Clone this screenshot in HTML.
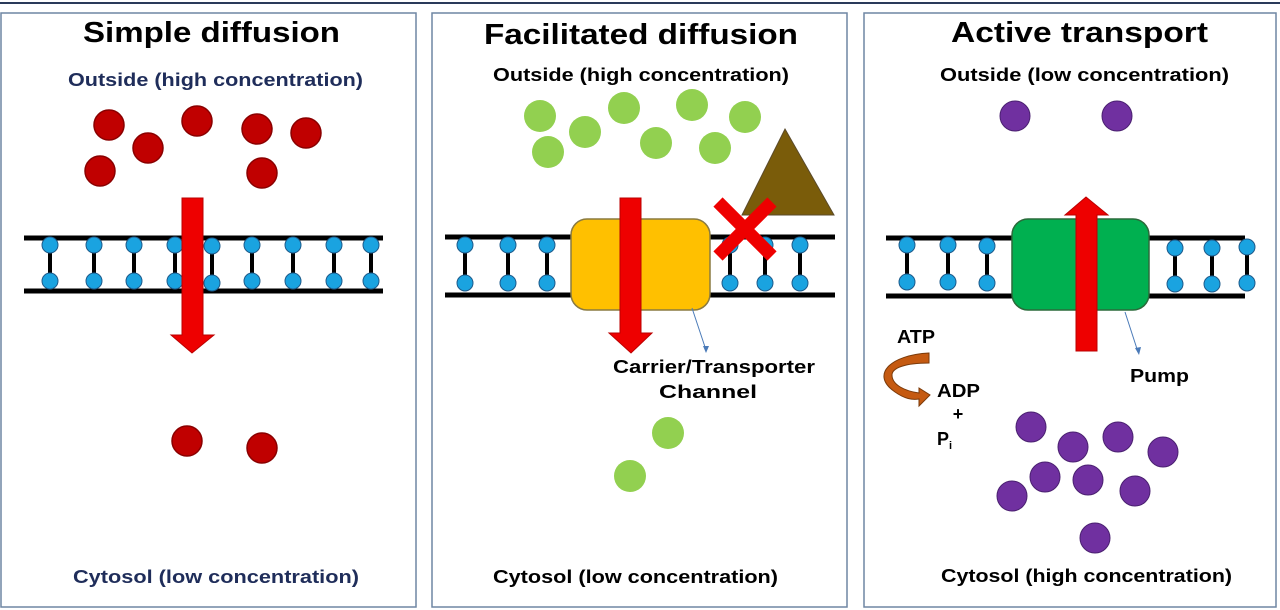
<!DOCTYPE html>
<html><head><style>
body{margin:0;background:#fff;}
svg{display:block;}
text{font-family:"Liberation Sans",sans-serif;font-weight:bold;}
</style></head><body>
<svg width="1280" height="610" viewBox="0 0 1280 610" xmlns="http://www.w3.org/2000/svg">
<rect width="1280" height="610" fill="#fff"/>
<line x1="0" y1="3" x2="1280" y2="3" stroke="#2a3a5a" stroke-width="2"/>
<rect x="1" y="13" width="415" height="594" fill="none" stroke="#6f86a3" stroke-width="1.5"/>
<rect x="432" y="13" width="415" height="594" fill="none" stroke="#6f86a3" stroke-width="1.5"/>
<rect x="864" y="13" width="412" height="594" fill="none" stroke="#6f86a3" stroke-width="1.5"/>

<!-- Panel 1 -->
<text x="83" y="42" font-size="29" textLength="257" lengthAdjust="spacingAndGlyphs" fill="#000">Simple diffusion</text>
<text x="68" y="86" font-size="18" textLength="295" lengthAdjust="spacingAndGlyphs" fill="#1f2d5a">Outside (high concentration)</text>
<text x="73" y="583" font-size="18" textLength="286" lengthAdjust="spacingAndGlyphs" fill="#1f2d5a">Cytosol (low concentration)</text>
<g fill="#c00000" stroke="#8a0000" stroke-width="1.5">
<circle cx="109" cy="125" r="15"/><circle cx="148" cy="148" r="15"/><circle cx="197" cy="121" r="15"/>
<circle cx="257" cy="129" r="15"/><circle cx="306" cy="133" r="15"/><circle cx="100" cy="171" r="15"/>
<circle cx="262" cy="173" r="15"/><circle cx="187" cy="441" r="15"/><circle cx="262" cy="448" r="15"/>
</g>
<g stroke="#000">
<line x1="24" y1="238" x2="383" y2="238" stroke-width="5"/>
<line x1="24" y1="291" x2="383" y2="291" stroke-width="5"/>
</g>
<g stroke="#000" stroke-width="4">
<line x1="50" y1="245" x2="50" y2="281"/><line x1="94" y1="245" x2="94" y2="281"/><line x1="134" y1="245" x2="134" y2="281"/><line x1="175" y1="245" x2="175" y2="281"/><line x1="212" y1="245" x2="212" y2="281"/><line x1="252" y1="245" x2="252" y2="281"/><line x1="293" y1="245" x2="293" y2="281"/><line x1="334" y1="245" x2="334" y2="281"/><line x1="371" y1="245" x2="371" y2="281"/>
</g>
<g fill="#1aa3e0" stroke="#1e5a8a" stroke-width="1">
<circle cx="50" cy="245" r="8"/><circle cx="94" cy="245" r="8"/><circle cx="134" cy="245" r="8"/><circle cx="175" cy="245" r="8"/><circle cx="212" cy="246" r="8"/><circle cx="252" cy="245" r="8"/><circle cx="293" cy="245" r="8"/><circle cx="334" cy="245" r="8"/><circle cx="371" cy="245" r="8"/>
<circle cx="50" cy="281" r="8"/><circle cx="94" cy="281" r="8"/><circle cx="134" cy="281" r="8"/><circle cx="175" cy="281" r="8"/><circle cx="212" cy="283" r="8"/><circle cx="252" cy="281" r="8"/><circle cx="293" cy="281" r="8"/><circle cx="334" cy="281" r="8"/><circle cx="371" cy="281" r="8"/>
</g>
<polygon points="182,198 203,198 203,335 214,335 192,353 171,335 182,335" fill="#ee0000" stroke="#b00" stroke-width="1"/>

<!-- Panel 2 -->
<text x="484" y="44" font-size="29" textLength="314" lengthAdjust="spacingAndGlyphs" fill="#000">Facilitated diffusion</text>
<text x="493" y="81" font-size="18" textLength="296" lengthAdjust="spacingAndGlyphs" fill="#000">Outside (high concentration)</text>
<text x="493" y="583" font-size="18" textLength="285" lengthAdjust="spacingAndGlyphs" fill="#000">Cytosol (low concentration)</text>
<g fill="#92d050">
<circle cx="540" cy="116" r="16"/><circle cx="585" cy="132" r="16"/><circle cx="624" cy="108" r="16"/><circle cx="656" cy="143" r="16"/><circle cx="692" cy="105" r="16"/><circle cx="715" cy="148" r="16"/><circle cx="745" cy="117" r="16"/><circle cx="548" cy="152" r="16"/>
<circle cx="668" cy="433" r="16"/><circle cx="630" cy="476" r="16"/>
</g>
<polygon points="785,129 834,215 742,215" fill="#7a5c0a" stroke="#5a4a2a" stroke-width="1"/>
<line x1="445" y1="237" x2="835" y2="237" stroke="#000" stroke-width="5"/>
<line x1="445" y1="295" x2="835" y2="295" stroke="#000" stroke-width="5"/>
<g stroke="#000" stroke-width="4">
<line x1="465" y1="245" x2="465" y2="283"/><line x1="508" y1="245" x2="508" y2="283"/><line x1="547" y1="245" x2="547" y2="283"/><line x1="730" y1="245" x2="730" y2="283"/><line x1="765" y1="245" x2="765" y2="283"/><line x1="800" y1="245" x2="800" y2="283"/>
</g>
<g fill="#1aa3e0" stroke="#1e5a8a" stroke-width="1">
<circle cx="465" cy="245" r="8"/><circle cx="508" cy="245" r="8"/><circle cx="547" cy="245" r="8"/><circle cx="730" cy="245" r="8"/><circle cx="765" cy="245" r="8"/><circle cx="800" cy="245" r="8"/>
<circle cx="465" cy="283" r="8"/><circle cx="508" cy="283" r="8"/><circle cx="547" cy="283" r="8"/><circle cx="730" cy="283" r="8"/><circle cx="765" cy="283" r="8"/><circle cx="800" cy="283" r="8"/>
</g>
<rect x="571" y="219" width="139" height="91" rx="16" fill="#ffc000" stroke="#8a7a40" stroke-width="1.5"/>
<g stroke="#ee0000" stroke-width="13">
<line x1="718" y1="202" x2="772" y2="256"/><line x1="772" y1="202" x2="718" y2="256"/>
</g>
<polygon points="620,198 641,198 641,333 652,333 631,353 609,333 620,333" fill="#ee0000" stroke="#b00" stroke-width="1"/>
<line x1="692" y1="308" x2="706" y2="350" stroke="#4a7ab8" stroke-width="1"/>
<polygon points="706,353 703,346 709,346" fill="#4a7ab8"/>
<text x="613" y="373" font-size="18" textLength="202" lengthAdjust="spacingAndGlyphs" fill="#000">Carrier/Transporter</text>
<text x="659" y="398" font-size="18" textLength="98" lengthAdjust="spacingAndGlyphs" fill="#000">Channel</text>

<!-- Panel 3 -->
<text x="951" y="42" font-size="29" textLength="257" lengthAdjust="spacingAndGlyphs" fill="#000">Active transport</text>
<text x="940" y="81" font-size="18" textLength="289" lengthAdjust="spacingAndGlyphs" fill="#000">Outside (low concentration)</text>
<text x="941" y="582" font-size="18" textLength="291" lengthAdjust="spacingAndGlyphs" fill="#000">Cytosol (high concentration)</text>
<g fill="#7030a0" stroke="#4a2070" stroke-width="1">
<circle cx="1015" cy="116" r="15"/><circle cx="1117" cy="116" r="15"/>
<circle cx="1031" cy="427" r="15"/><circle cx="1073" cy="447" r="15"/><circle cx="1118" cy="437" r="15"/><circle cx="1163" cy="452" r="15"/><circle cx="1045" cy="477" r="15"/><circle cx="1088" cy="480" r="15"/><circle cx="1135" cy="491" r="15"/><circle cx="1012" cy="496" r="15"/><circle cx="1095" cy="538" r="15"/>
</g>
<line x1="886" y1="238" x2="1245" y2="238" stroke="#000" stroke-width="5"/>
<line x1="886" y1="296" x2="1245" y2="296" stroke="#000" stroke-width="5"/>
<g stroke="#000" stroke-width="4">
<line x1="907" y1="245" x2="907" y2="282"/><line x1="948" y1="245" x2="948" y2="282"/><line x1="987" y1="246" x2="987" y2="283"/><line x1="1175" y1="248" x2="1175" y2="284"/><line x1="1212" y1="248" x2="1212" y2="284"/><line x1="1247" y1="247" x2="1247" y2="283"/>
</g>
<g fill="#1aa3e0" stroke="#1e5a8a" stroke-width="1">
<circle cx="907" cy="245" r="8"/><circle cx="948" cy="245" r="8"/><circle cx="987" cy="246" r="8"/><circle cx="1175" cy="248" r="8"/><circle cx="1212" cy="248" r="8"/><circle cx="1247" cy="247" r="8"/>
<circle cx="907" cy="282" r="8"/><circle cx="948" cy="282" r="8"/><circle cx="987" cy="283" r="8"/><circle cx="1175" cy="284" r="8"/><circle cx="1212" cy="284" r="8"/><circle cx="1247" cy="283" r="8"/>
</g>
<rect x="1012" y="219" width="137" height="91" rx="16" fill="#00b050" stroke="#2a6a3a" stroke-width="1.5"/>
<polygon points="1076,351 1097,351 1097,215 1108,215 1086,197 1065,215 1076,215" fill="#ee0000" stroke="#b00" stroke-width="1"/>
<line x1="1125" y1="312" x2="1138" y2="352" stroke="#4a7ab8" stroke-width="1"/>
<polygon points="1139,355 1135,348 1141,347" fill="#4a7ab8"/>
<text x="1130" y="382" font-size="18" textLength="59" lengthAdjust="spacingAndGlyphs" fill="#000">Pump</text>
<text x="897" y="343" font-size="18" textLength="38" lengthAdjust="spacingAndGlyphs" fill="#000">ATP</text>
<text x="937" y="397" font-size="18" textLength="43" lengthAdjust="spacingAndGlyphs" fill="#000">ADP</text>
<text x="958" y="420" font-size="18" text-anchor="middle" fill="#000">+</text>
<text x="937" y="445" font-size="18" fill="#000">P<tspan font-size="11" dy="4">i</tspan></text>
<path d="M929,353 C890,355 870,375 895,392 C905,399 912,400 919,399 L919,406 L930,395 L919,388 L919,393 C905,391 892,385 892,375 C892,368 905,363 929,363 Z" fill="#c55a11" stroke="#7a3a0a" stroke-width="1"/>
</svg>
</body></html>
